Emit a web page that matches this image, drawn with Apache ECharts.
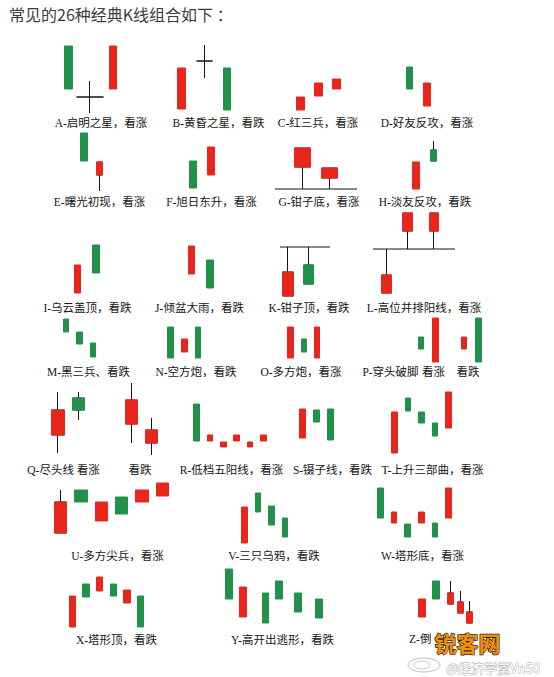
<!DOCTYPE html>
<html><head><meta charset="utf-8">
<script src="https://cdn.jsdelivr.net/npm/echarts@6/dist/echarts.min.js"></script>
<style>html,body{margin:0;padding:0;background:#fff}#c{width:554px;height:677px}</style>
</head><body><div id="c"></div>
<script>
// ---------- DATA: each candle = [day, open, close, low, high] ----------
const titleText = '常见的26种经典K线组合如下 ：';
const A  = [[0,74,31,31,74],[0.96,23,23,7,39],[2,31,74,31,74]];
const B  = [[0,11,52,11,52],[1,59,59,42,75],[2,52,10,10,52]];
const C  = [[0,10,23,10,23],[1,24,37,24,37],[2,31,41,31,41]];
const D  = [[0,53,31,31,53],[1,14,37,14,37]];
const E  = [[0,62,34,34,62],[1,20,33,4,33]];
const F  = [[0,34,7,7,34],[1,20,48,20,48]];
const G  = [[0,28,47,6,47],[1,17,27,6,27]];
const gLine = [[-1.02,6],[2.02,6]];
const H  = [[0,6,33,6,33],[1,45,34,34,54]];
const I  = [[0,7,35,7,35],[1,55,27,27,55]];
const J  = [[0,26,54,26,54],[1,40,12,12,40]];
const K  = [[0,4,28,4,53],[1,35,16,16,53]];
const kLine = [[-0.39,53],[2.05,53]];
const L  = [[0,7,25,7,51],[2.1,69,87,51,87],[4.75,69,87,51,87]];
const lLine = [[-1.35,51],[6.85,51]];
const M  = [[0,46,33,33,46],[1,33,21,21,33],[2,22,8,8,22]];
const N  = [[0,38,7,7,38],[1,13,26,13,26],[2,38,7,7,38]];
const O  = [[0,7,38,7,38],[1,26,13,13,26],[2,7,38,7,38]];
const P  = [[0,28,16,16,28],[1,3,47,3,47],[3,16,28,16,28],[4,47,3,3,47]];
const Q1 = [[0,25,50,7,68],[1,62,50,40,68]];
const Q2 = [[0,36,60,17,77],[1,17,30,5,42]];
const R  = [[0,56,19,19,56],[1,19,25,19,25],[2,13,18,13,18],[3,19,25,19,25],[4,13,18,13,18],[5,19,25,19,25]];
const S  = [[0,22,51,22,51],[1,50,38,38,50],[2,51,20,20,51]];
const T  = [[0,7,48,7,48],[1,62,49,49,62],[2,48,37,37,48],[3,37,24,24,37],[4,32,68,32,68]];
const U  = [[0,12,43,12,55],[1,55,43,43,55],[2,24,43,24,43],[3,48,31,31,48],[4,43,55,43,55],[5,49,62,49,62]];
const V  = [[0,2,38,2,38],[1,52,33,33,52],[2,39,20,20,39],[3,27,8,8,27]];
const W  = [[0,57,27,27,57],[1,22,33,22,33],[2,21,8,8,21],[3,22,33,22,33],[4,22,8,8,22],[5,27,57,27,57]];
const X  = [[0,3,34,3,34],[1,46,33,33,46],[2,39,53,39,53],[3,46,34,34,46],[4,27,40,27,40],[5,34,3,3,34]];
const Y  = [[0,61,31,31,61],[1.03,13,43,13,43],[2.69,37,7,7,37],[3.68,49,31,31,49],[5.07,37,18,18,37],[6.62,31,12,12,31]];
const Z  = [[0,13,31,13,31],[1,49,31,31,49],[2.04,26,37,26,49],[2.75,17,28,17,39],[3.39,7,18,7,29]];

const labelTexts = [
  'A-启明之星，看涨','B-黄昏之星，看跌','C-红三兵，看涨','D-好友反攻，看涨',
  'E-曙光初现，看涨','F-旭日东升，看涨','G-钳子底，看涨','H-淡友反攻，看跌',
  'I-乌云盖顶，看跌','J-倾盆大雨，看跌','K-钳子顶，看跌','L-高位并排阳线，看涨',
  'M-黑三兵、看跌','N-空方炮，看跌','O-多方炮，看涨','P-穿头破脚','看涨','看跌',
  'Q-尽头线 看涨','看跌','R-低档五阳线，看涨','S-镊子线，看跌','T-上升三部曲，看涨',
  'U-多方尖兵，看涨','V-三只乌鸦，看跌','W-塔形底，看涨',
  'X-塔形顶，看跌','Y-高开出逃形，看跌','Z-倒三阳，看跌'
];
const watermarkText = '锐客网';
const weiboText = '@经济学堂Vn50';

// ---------- LAYOUT ----------
const RED = '#e8261c', GREEN = '#22924a', BLACK = '#151515';
const layout = [
  {d:A, px0:68.5, step:22.3, base:120, w:9, cross:28},
  {d:B, px0:181.5, step:22.75, base:120, w:9, cross:18},
  {d:C, px0:300.5, step:18, base:120, w:9},
  {d:D, px0:409.5, step:17.5, base:120, w:8},
  {d:E, px0:84, step:15.5, base:195, w:8},
  {d:F, px0:193, step:18, base:195, w:8},
  {d:G, px0:302.5, step:27, base:195, w:18, line:gLine},
  {d:H, px0:416, step:17.5, base:195, w:8},
  {d:I, px0:77.5, step:18.5, base:300, w:8},
  {d:J, px0:191.5, step:18.5, base:300, w:8},
  {d:K, px0:288, step:20.5, base:300, w:12, line:kLine},
  {d:L, px0:386.5, step:10, base:300, w:11, line:lLine},
  {d:M, px0:66, step:13.5, base:365, w:7},
  {d:N, px0:170.5, step:13.75, base:365, w:7},
  {d:O, px0:290.5, step:13.25, base:365, w:7},
  {d:P, px0:421, step:14.4, base:365, w:7},
  {d:Q1, px0:58, step:20.5, base:460, w:14},
  {d:Q2, px0:131.5, step:20, base:460, w:13},
  {d:R, px0:196.5, step:13.4, base:460, w:7},
  {d:S, px0:302.5, step:14, base:460, w:7},
  {d:T, px0:394.5, step:13.5, base:460, w:7},
  {d:U, px0:60.5, step:20.4, base:545, w:14},
  {d:V, px0:244.5, step:13.5, base:545, w:7},
  {d:W, px0:380.5, step:13.6, base:545, w:7},
  {d:X, px0:72.5, step:13.6, base:630, w:8},
  {d:Y, px0:229, step:13.6, base:630, w:8},
  {d:Z, px0:422, step:14, base:630, w:8}
];
const labelPos = [
  [101,123],[218.5,123],[318,123],[427,123],
  [99.5,202],[211.5,202],[319,202],[425,202],
  [87.5,308],[199.5,308],[309,308],[424,308],
  [88.5,372],[196,372],[301,372],[390.5,372],[433.5,372],[468,372],
  [63.5,470],[140,470],[231.5,470],[332.5,470],[432.5,470],
  [117.5,556],[274,556],[422.5,556],
  [116.5,640],[282.5,640],[449,639]
];

const grid = [], xAxis = [], yAxis = [], series = [];
layout.forEach((p, i) => {
  const xmin = -2, xmax = Math.max(...p.d.map(c => c[0])) + 2;
  grid.push({left: p.px0 + xmin * p.step, top: p.base - 100, width: (xmax - xmin) * p.step, height: 100});
  xAxis.push({type:'value', gridIndex:i, min:xmin, max:xmax, show:false});
  yAxis.push({type:'value', gridIndex:i, min:0, max:100, show:false});
  const wick = p.d.filter(c => c[1] === c[2] || c[3] < Math.min(c[1], c[2]) || c[4] > Math.max(c[1], c[2]));
  const body = p.d.filter(c => c[1] !== c[2]).map(c => [c[0], c[1], c[2], Math.min(c[1], c[2]), Math.max(c[1], c[2])]);
  if (wick.length) series.push({
    type:'candlestick', xAxisIndex:i, yAxisIndex:i, data:wick, clip:false,
    barWidth:(p.cross || p.w) - 1, silent:true,
    itemStyle:{color:BLACK, color0:BLACK, borderColor:BLACK, borderColor0:BLACK, borderColorDoji:BLACK, borderWidth:1}
  });
  series.push({
    type:'candlestick', xAxisIndex:i, yAxisIndex:i, data:body, clip:false,
    barWidth:p.w - 1, silent:true,
    itemStyle:{color:RED, color0:GREEN, borderColor:RED, borderColor0:GREEN, borderWidth:1}
  });
  if (p.line) series.push({
    type:'line', xAxisIndex:i, yAxisIndex:i, data:p.line, symbol:'none', silent:true,
    lineStyle:{color:BLACK, width:1}
  });
});

const LABEL_FONT = '11.5px "Liberation Serif", "Noto Sans CJK SC", serif';
const graphic = [{
  type:'text', x:9, y:14,
  style:{text:titleText, font:'16px "Noto Sans CJK SC", sans-serif', fill:'#3d3d3d',
         align:'left', textAlign:'left', verticalAlign:'middle', textVerticalAlign:'middle'}
}];
labelTexts.forEach((t, i) => graphic.push({
  type:'text', x:labelPos[i][0], y:labelPos[i][1],
  style:{text:t, font:LABEL_FONT, fill:'#161616',
         align:'center', textAlign:'center', verticalAlign:'middle', textVerticalAlign:'middle'}
}));
// watermark
graphic.push({type:'rect', shape:{x:431, y:630, width:73, height:25}, style:{fill:'#fff'}});
graphic.push({type:'text', x:467.5, y:641.5,
  style:{text:watermarkText, font:'bold 22px "Noto Sans CJK SC", sans-serif', fill:'#f38d0c', stroke:'#2b1a05', lineWidth:1.3,
         align:'center', textAlign:'center', verticalAlign:'middle', textVerticalAlign:'middle'}});
graphic.push({type:'ellipse', shape:{cx:424, cy:665, rx:16, ry:7}, style:{fill:'none', stroke:'#bdbdbd', lineWidth:1}});
graphic.push({type:'ellipse', shape:{cx:422, cy:665, rx:8, ry:4}, style:{fill:'none', stroke:'#c8c8c8', lineWidth:1}});
graphic.push({type:'text', x:446, y:667,
  style:{text:weiboText, font:'13px "Noto Sans CJK SC", sans-serif', fill:'#fff', stroke:'#a8a8a8', lineWidth:0.8,
         align:'left', textAlign:'left', verticalAlign:'middle', textVerticalAlign:'middle'}});

const chart = echarts.init(document.getElementById('c'), null, {renderer:'svg'});
chart.setOption({
  backgroundColor:'#ffffff',
  animation:false,
  grid, xAxis, yAxis, series, graphic
});
</script></body></html>
